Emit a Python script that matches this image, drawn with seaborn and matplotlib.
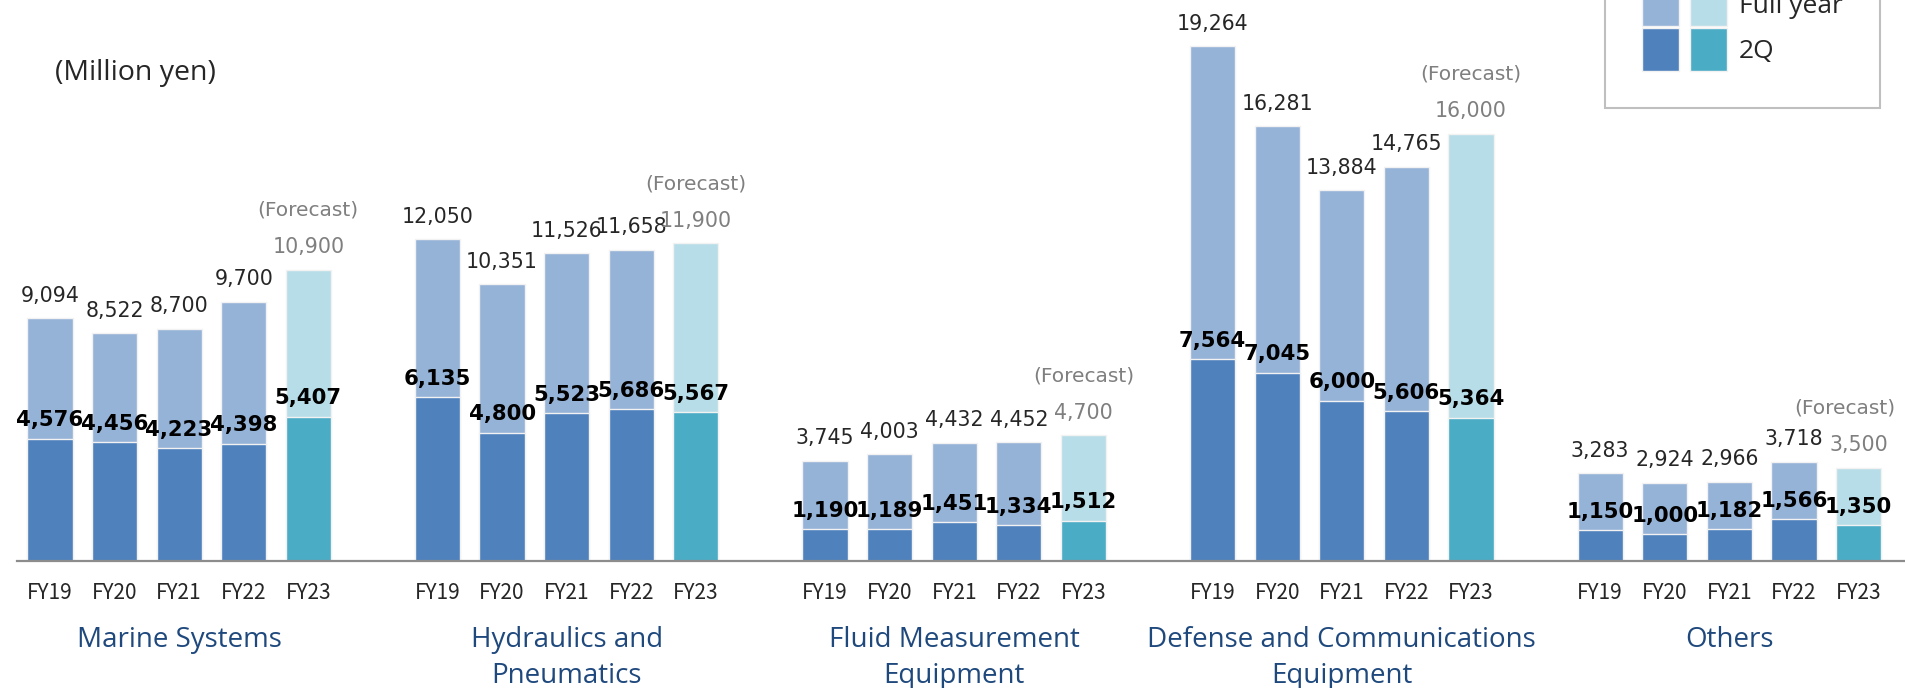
import matplotlib
matplotlib.use("Agg")
import matplotlib.pyplot as plt
from matplotlib.legend_handler import HandlerTuple
from matplotlib.patches import Patch
from matplotlib.transforms import blended_transform_factory
import pandas as pd
import seaborn as sns

# Segment sales (million yen), full year and first half (2Q); FY23 is forecast
segments = [
    "Marine Systems",
    "Hydraulics and\nPneumatics",
    "Fluid Measurement\nEquipment",
    "Defense and Communications\nEquipment",
    "Others",
]
years = ["FY19", "FY20", "FY21", "FY22", "FY23"]

marine_full = [9094, 8522, 8700, 9700, 10900]
marine_2q = [4576, 4456, 4223, 4398, 5407]
hydraulics_full = [12050, 10351, 11526, 11658, 11900]
hydraulics_2q = [6135, 4800, 5523, 5686, 5567]
fluid_full = [3745, 4003, 4432, 4452, 4700]
fluid_2q = [1190, 1189, 1451, 1334, 1512]
defense_full = [19264, 16281, 13884, 14765, 16000]
defense_2q = [7564, 7045, 6000, 5606, 5364]
others_full = [3283, 2924, 2966, 3718, 3500]
others_2q = [1150, 1000, 1182, 1566, 1350]

full_lists = [marine_full, hydraulics_full, fluid_full, defense_full, others_full]
q2_lists = [marine_2q, hydraulics_2q, fluid_2q, defense_2q, others_2q]

rows = []
for g, seg in enumerate(segments):
    for i, yr in enumerate(years):
        rows.append(
            {
                "pos": g * 6 + i,  # one empty slot between segments
                "segment": seg,
                "year": yr,
                "full": full_lists[g][i],
                "q2": q2_lists[g][i],
                "kind": "forecast" if yr == "FY23" else "actual",
            }
        )
df = pd.DataFrame(rows)

# Style options
W, H = 1905, 688
sns.set_style("white")
plt.rcParams["font.family"] = ["DejaVu Sans"]
fig = plt.figure(figsize=(W / 100, H / 100), dpi=100)
ax = fig.add_axes([17 / W, 127 / H, 1 - 17 / W, 1 - 127 / H])

light = {"actual": "#95B3D7", "forecast": "#B7DEE8"}
dark = {"actual": "#4F81BD", "forecast": "#4BACC6"}

sns.barplot(
    data=df, x="pos", y="full", hue="kind", palette=light, native_scale=True,
    dodge=False, width=0.7, saturation=1, edgecolor="#f2f2f2", linewidth=1,
    legend=False, ax=ax,
)
sns.barplot(
    data=df, x="pos", y="q2", hue="kind", palette=dark, native_scale=True,
    dodge=False, width=0.7, saturation=1, edgecolor="#f2f2f2", linewidth=1,
    legend=False, ax=ax,
)

forecast_notes = []
for _, r in df.iterrows():
    fc = "#7F7F7F" if r["kind"] == "forecast" else "#262626"
    ax.annotate(f"{r['full']:,}", (r["pos"], r["full"]), xytext=(0, 9),
                textcoords="offset points", ha="center", va="bottom",
                fontsize=14.8, color=fc)
    ax.annotate(f"{r['q2']:,}", (r["pos"], r["q2"]), xytext=(0, 6),
                textcoords="offset points", ha="center", va="bottom",
                fontsize=15.3, fontweight="bold", color="black")
    if r["kind"] == "forecast":
        note = ax.annotate("(Forecast)", (r["pos"], r["full"]), xytext=(0, 36),
                           textcoords="offset points", ha="center", va="bottom",
                           fontsize=14.5, color="#7F7F7F")
        forecast_notes.append(note)

ax.set_xlim(-0.51, 28.72)
ax.set_ylim(0, 21000)
ax.set_xticks(df["pos"])
ax.set_xticklabels(df["year"], fontsize=15, family=["Noto Sans CJK JP", "DejaVu Sans"])
ax.tick_params(axis="x", length=0, pad=15)
ax.set_yticks([])
ax.set_xlabel("")
ax.set_ylabel("")
sns.despine(ax=ax, left=True)
ax.spines["bottom"].set_color("#8C8C8C")
ax.spines["bottom"].set_linewidth(1.6)

trans = blended_transform_factory(ax.transData, fig.transFigure)
for g, seg in enumerate(segments):
    ax.text(g * 6 + 2, 1 - 626 / H, seg, transform=trans, ha="center", va="top",
            fontsize=20, color="#1F497D", linespacing=1.38, family="Open Sans")

fig.text(55 / W, 1 - 73 / H, "(Million yen)", va="center", fontsize=20.5,
         color="#262626", family="Open Sans")

handles = [
    (Patch(fc=light["actual"], ec="#f2f2f2"), Patch(fc=light["forecast"], ec="#f2f2f2")),
    (Patch(fc=dark["actual"], ec="#f2f2f2"), Patch(fc=dark["forecast"], ec="#f2f2f2")),
]
leg = fig.legend(
    handles, ["Full year", "2Q"],
    handler_map={tuple: HandlerTuple(ndivide=None, pad=0.42)},
    loc="lower right", bbox_to_anchor=(1880 / W, 1 - 108 / H),
    bbox_transform=fig.transFigure, prop={"family": "Open Sans", "size": 19},
    handlelength=3.22, handleheight=2.13, labelspacing=0.08, handletextpad=0.45,
    borderpad=1.4, borderaxespad=0, frameon=True, fancybox=False,
    edgecolor="#BFBFBF", framealpha=1,
)
leg.get_frame().set_linewidth(1.5)

# keep the last "(Forecast)" note inside the right edge
fig.canvas.draw()
renderer = fig.canvas.get_renderer()
for note in forecast_notes:
    bb = note.get_window_extent(renderer)
    over = bb.x1 - (W - 10)
    if over > 0:
        dx, dy = note.get_position()
        note.set_position((dx - over * 72 / 100, dy))

plt.savefig("out.png", dpi=100)
